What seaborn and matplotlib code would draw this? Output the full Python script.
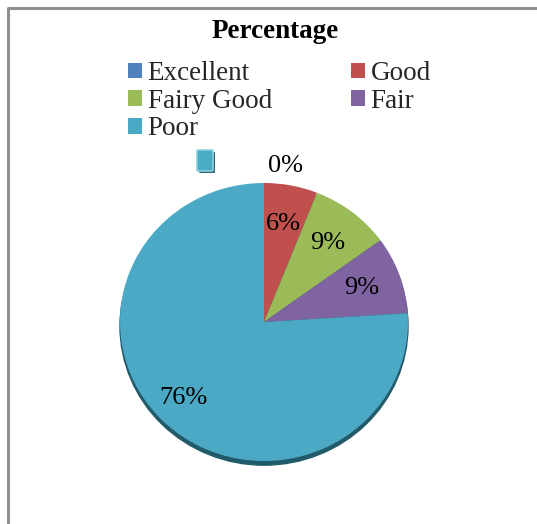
import matplotlib
matplotlib.use("Agg")
import matplotlib.pyplot as plt
import seaborn as sns
from matplotlib.patches import Patch, Ellipse, FancyBboxPatch
from matplotlib.lines import Line2D

categories = ["Excellent", "Good", "Fairy Good", "Fair", "Poor"]
values = [0, 6, 9, 9, 76]
pct_labels = ["0%", "6%", "9%", "9%", "76%"]
colors = ["#4F81BD", "#C0504D", "#9BBB59", "#8064A2", "#4BA9C5"]
title = "Percentage"

sns.set_theme(style="white")
plt.rcParams["font.family"] = ["Liberation Serif", "DejaVu Serif"]

W, H = 537, 524
fig = plt.figure(figsize=(W / 100, H / 100), dpi=100)
fig.patch.set_facecolor("white")

# frame lines (top and left)
fig.add_artist(Line2D([8 / W, 8 / W], [0, 1 - 8 / H], transform=fig.transFigure,
                      color="#8f8f8f", lw=2.2, solid_capstyle="butt"))
fig.add_artist(Line2D([8 / W - 0.002, 1], [1 - 8 / H, 1 - 8 / H], transform=fig.transFigure,
                      color="#8f8f8f", lw=2.2, solid_capstyle="butt"))

# title
fig.text(275 / W, 1 - 32 / H, title, ha="center", va="center",
         fontsize=19.5, fontweight="bold", color="black")

# pie axes
left, right, top, bottom = 120, 408, 183, 461
ax = fig.add_axes([left / W, 1 - bottom / H, (right - left) / W, (bottom - top) / H])
shadow = Ellipse((0.0, -0.03), 2.0, 2.0, color="#215A69", zorder=0, clip_on=False)
ax.add_patch(shadow)
wedges, texts = ax.pie(values, colors=colors, startangle=90, counterclock=False,
                       labels=pct_labels, labeldistance=0.72,
                       wedgeprops=dict(linewidth=0),
                       textprops=dict(fontsize=19, color="black"))
for t in texts:
    t.set_ha("center")
    t.set_va("center")
texts[0].set_position((0.03, 1.125))
texts[0].set_ha("left")
texts[4].set_position((-0.56, 0.58 * -1 + 0.03))
ax.set_aspect("auto")
ax.set_xlim(-1, 1)
ax.set_ylim(-1, 1)
ax.axis("off")

# small stray marker next to the 0% label
fig.add_artist(FancyBboxPatch((199 / W, 1 - 173 / H), 16 / W, 21 / H,
                              boxstyle="round,pad=0,rounding_size=0.002",
                              transform=fig.transFigure, facecolor="#2B6575",
                              edgecolor="none"))
fig.add_artist(FancyBboxPatch((197 / W, 1 - 171 / H), 16 / W, 21 / H,
                              boxstyle="round,pad=0,rounding_size=0.002",
                              transform=fig.transFigure, facecolor="#4BACC6",
                              edgecolor="#8ED0E0", linewidth=1.2))

# legend (row-wise order: Excellent, Good / Fairy Good, Fair / Poor)
order = [0, 2, 4, 1, 3]
handles = [Patch(facecolor=colors[i], edgecolor="none", label=categories[i]) for i in order]
fig.legend(handles=handles, ncol=2, loc="upper left",
           bbox_to_anchor=(128 / W, 1 - 61 / H), frameon=False,
           fontsize=19.5, handlelength=0.5, handleheight=0.5,
           handletextpad=0.22, labelspacing=0.1, columnspacing=2.93,
           borderpad=0, borderaxespad=0)

fig.savefig("out.png", dpi=100, facecolor="white")
